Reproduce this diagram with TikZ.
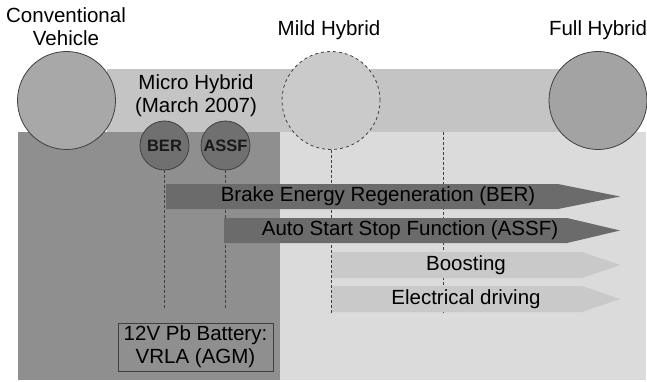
\documentclass[tikz,border=0pt]{standalone}
\usepackage{fontspec}
\setmainfont{Liberation Sans}
\usepackage{tikz}
\usetikzlibrary{positioning, calc}

\definecolor{lightarea}{gray}{0.86}
\definecolor{bandgray}{gray}{0.77}
\definecolor{darkarea}{gray}{0.56}
\definecolor{convgray}{gray}{0.66}
\definecolor{fullgray}{gray}{0.64}
\definecolor{featgray}{gray}{0.44}
\definecolor{darkarrow}{gray}{0.42}
\definecolor{lightarrow}{gray}{0.79}
\definecolor{edgegray}{gray}{0.25}

\tikzset{
  stage/.style={circle, inner sep=0pt, minimum size=98pt, draw=edgegray, line width=0.8pt},
  feature/.style={circle, inner sep=0pt, minimum size=49pt, draw=edgegray, line width=0.8pt,
    fill=featgray, font=\fontsize{16.5}{18}\selectfont\bfseries, text=black!90},
  guide/.style={draw=edgegray, line width=0.8pt, dash pattern=on 3pt off 2pt},
  label/.style={align=center, text=black}
}

\begin{document}
\begin{tikzpicture}[x=1pt, y=-1pt, font=\fontsize{20.5}{23}\selectfont]
        \useasboundingbox (0,0) rectangle (647,382);

        % Flaechen
        \fill[lightarea] (280,132) rectangle (646,380);
        \fill[darkarea] (18,132) rectangle (280,380);
        \fill[bandgray] (107,69) rectangle (600,132);

        % Stufen
        \node[stage, fill=convgray] (conv) at (66.5,100.5) {};
        \node[stage, fill=bandgray!90!white, dashed] (mild) at (331,100.5) {};
        \node[stage, fill=fullgray] (full) at (598,100.5) {};

        \node[label] (convlabel) at (66,27) {Conventional\\Vehicle};
        \node[label] (mildlabel) at (329,30) {Mild Hybrid};
        \node[label] (fulllabel) at (598,30) {Full Hybrid};
        \node[label] (microlabel) at (196,96) {Micro Hybrid\\(March 2007)};

        % Funktionen
        \node[feature] (ber) at (164.5,145.5) {BER};
        \node[feature] (assf) at (225.5,145.5) {ASSF};

        % Hilfslinien
        \coordinate (berend) at (164.5,309);
        \coordinate (assfend) at (225.5,309);
        \coordinate (mildend) at (331,313);
        \coordinate (bandmark) at (443,132);
        \coordinate (bandend) at (443,313);
        \draw[guide] (ber.south) -- (berend);
        \draw[guide] (assf.south) -- (assfend);
        \draw[guide] (mild.south) -- (mildend);
        \draw[guide] (bandmark) -- (bandend);

        % Pfeile
        \fill[darkarrow] (166,184) -- (558,184) -- (620,196.5) -- (558,209) -- (166,209) -- cycle;
        \fill[darkarrow] (224,218) -- (567,218) -- (620,230.5) -- (567,243) -- (224,243) -- cycle;
        \fill[lightarrow] (332,252) -- (582,252) -- (620,265) -- (582,278) -- (332,278) -- cycle;
        \fill[lightarrow] (332,286) -- (582,286) -- (620,299) -- (582,312) -- (332,312) -- cycle;
        \node[label] (bertext) at (378,196.5) {Brake Energy Regeneration (BER)};
        \node[label] (assftext) at (410,230.5) {Auto Start Stop Function (ASSF)};
        \node[label] (booststext) at (466,265) {Boosting};
        \node[label] (elecktext) at (466,299) {Electrical driving};

        % Batterie
        \node[label, draw=edgegray, line width=0.8pt, fill=darkarea, inner sep=0pt,
              minimum width=155pt, minimum height=48pt] (battery) at (195.5,347)
              {12V Pb Battery:\\VRLA (AGM)};
    \end{tikzpicture}
\end{document}
